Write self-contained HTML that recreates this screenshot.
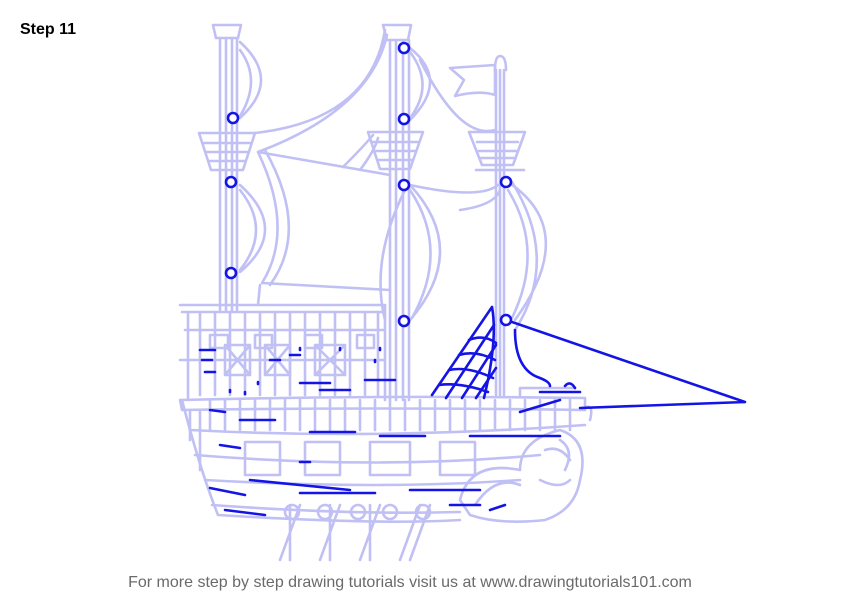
<!DOCTYPE html>
<html><head><meta charset="utf-8"><style>
html,body{margin:0;padding:0;background:#fff;width:846px;height:600px;overflow:hidden}
svg{display:block}
</style></head><body>
<svg width="846" height="600" viewBox="0 0 846 600" xmlns="http://www.w3.org/2000/svg">
<text x="20" y="34" font-family="Liberation Sans, sans-serif" font-weight="bold" font-size="16" fill="#000">Step 11</text>
<text x="410" y="587" text-anchor="middle" font-family="Liberation Sans, sans-serif" font-size="16" fill="#6a6a6a">For more step by step drawing tutorials visit us at www.drawingtutorials101.com</text>
<g fill="none" stroke="#c0c0f5" stroke-width="2.6" stroke-linecap="round" stroke-linejoin="round">
<path d="M220 38V310M226 38V310M232 38V310M237 38V310"/>
<path d="M213 25H241L238 38H216Z"/>
<path d="M199 133H255L243 170H211Z M203 143H251 M206 152H248 M209 161H245"/>
<path d="M390 40V400M396 40V400M403 40V400M409 40V400"/>
<path d="M383 25H411L408 40H387Z"/>
<path d="M368 132H423L410 169H380Z M372 142H419 M375 151H416 M378 160H413"/>
<path d="M496 70V395M500 70V395M504 70V395"/>
<path d="M495 70Q495 56 500 56Q506 56 506 70"/>
<path d="M469 132H525L513 165H482Z M477 142H518 M479 151H516 M481 158H514 M476 170H524"/>
<path d="M450 68L495 65L495 95Q480 90 455 96L464 80Z"/>
<path d="M240 42Q282 80 240 118M240 50Q262 80 240 116M240 185Q290 230 240 272M240 190Q272 230 240 270"/>
<path d="M410 48Q450 80 410 120M410 52Q435 85 410 118M410 185Q470 250 410 320M410 190Q450 250 412 318M405 190Q370 260 385 320"/>
<path d="M508 182Q580 230 515 320M508 190Q545 250 512 318M512 182Q560 260 515 330"/>
<path d="M255 133Q370 120 385 30M258 152Q370 110 387 35M258 152L390 175M258 152Q295 230 262 283M265 150Q310 230 270 285M262 283L390 290M260 285L258 305"/>
<path d="M343 167Q365 145 373 135M360 170Q375 150 378 138"/>
<path d="M410 185Q480 200 498 185M460 210Q495 205 500 190"/>
<path d="M420 60Q460 140 495 130"/>
<path d="M180 305H385M182 312H385M185 330H385M180 360H385M188 312V400M385 305V400"/>
<path d="M200 312V395M215 312V395M230 312V395M245 312V395M260 312V395M275 312V395M290 312V395M305 312V395M320 312V395M335 312V395M350 312V395M365 312V395M378 312V395"/>
<path d="M225 345H250V375H225Z M265 345H290V375H265Z M315 345H345V375H315Z M225 345L250 375M250 345L225 375M265 345L290 375M290 345L265 375M315 345L345 375M345 345L315 375"/>
<path d="M210 335H228V348H210Z M255 335H272V348H255Z M305 335H322V348H305Z M357 335H374V348H357Z"/>
<path d="M180 400Q380 395 585 398L585 410Q380 407 182 410Z"/>
<path d="M182 400Q200 470 218 515Q380 525 460 520"/>
<path d="M190 410V440 M200 410V470"/>
<path d="M210 400V430M225 400V430M240 400V430M255 400V430M270 400V430M285 400V430M300 400V430M315 400V430M330 400V430M345 400V430M360 400V430M375 400V430M390 400V430M405 400V430M420 400V430M435 400V430M450 400V430M465 400V430M480 400V430M495 400V430M510 400V430M525 400V430M540 400V430M555 400V430M570 400V430"/>
<path d="M190 430Q380 440 585 425M195 455Q380 470 540 455M205 480Q380 490 520 480M212 505Q350 515 460 512"/>
<path d="M245 442H280V475H245Z M305 442H340V475H305Z M370 442H410V475H370Z M440 442H475V475H440Z"/>
<path d="M290 505V560M300 505L280 560M330 505V560M340 505L320 560M370 505V560M380 505L360 560M420 505L400 560M430 505L410 560"/>
<circle cx="292" cy="512" r="7"/><circle cx="325" cy="512" r="7"/><circle cx="358" cy="512" r="7"/><circle cx="390" cy="512" r="7"/><circle cx="423" cy="512" r="7"/>
<path d="M460 500Q470 460 520 470Q520 440 560 430Q590 440 580 480Q575 510 545 520Q500 525 470 515Z"/>
<path d="M545 450Q560 445 570 460M540 480Q560 490 570 480M475 505Q495 475 520 485M560 440Q575 450 565 470"/>
<path d="M580 410Q595 400 590 420"/>
<path d="M520 395L520 388H575"/>
</g>
<g fill="none" stroke="#1414e6" stroke-width="2.6" stroke-linecap="round">
<path d="M506 320L745 402M745 402L580 408"/>
<path d="M515 330Q515 370 540 378Q550 382 550 386"/>
<path d="M540 392H580M565 386Q570 380 575 388"/>
<path d="M432 395L492 307M492 307Q498 340 484 398"/>
<path d="M469 340Q484 334 496 343M459 355Q476 350 495 360M449 370Q468 366 493 378M439 385Q460 382 488 392M446 398L494 325M462 398L496 345M476 398L496 368"/>
<path d="M520 412L560 400"/>
<path d="M210 410L225 412M240 420H275M310 432H355M380 436H425M470 436H560M220 445L240 448M250 480Q300 485 350 490M300 493H375M410 490L480 490M210 488L245 495M225 510L265 515M300 462H310M450 505H480M490 510L505 505"/>
<path d="M200 350H215M202 360H212M205 372H215M270 360H280M290 355H300M300 383H330M365 380H395M320 390H350"/>
<path d="M230 390V392M245 392V394M258 382V384M375 360V362M380 348V350M340 348V350M300 348V350"/>
</g>
<g fill="#fff" stroke="#1414e6" stroke-width="2.6">
<circle cx="233" cy="118" r="5"/><circle cx="231" cy="182" r="5"/><circle cx="231" cy="273" r="5"/>
<circle cx="404" cy="48" r="5"/><circle cx="404" cy="119" r="5"/><circle cx="404" cy="185" r="5"/><circle cx="404" cy="321" r="5"/>
<circle cx="506" cy="182" r="5"/><circle cx="506" cy="320" r="5"/>
</g>
</svg>
</body></html>
